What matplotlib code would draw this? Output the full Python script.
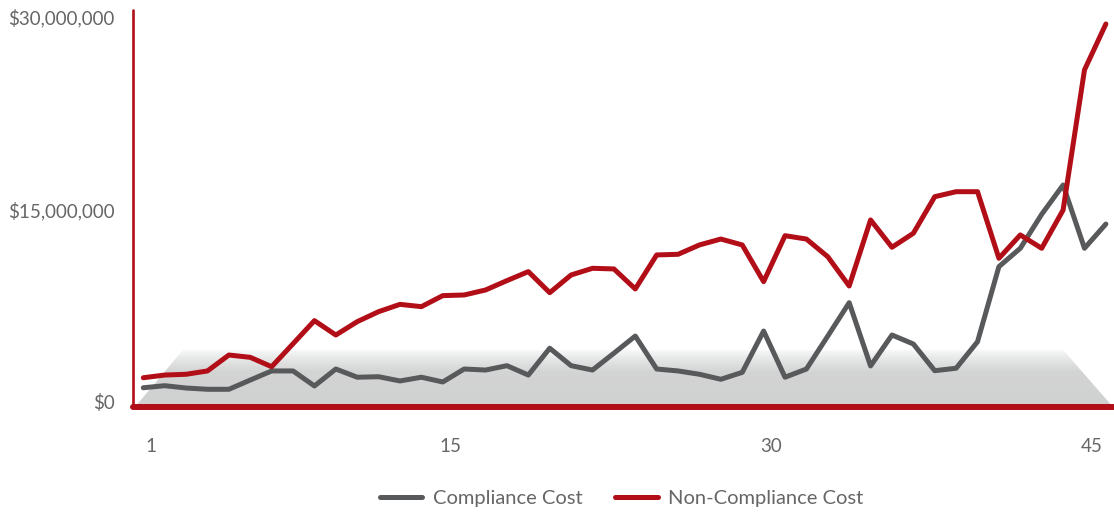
import numpy as np
import matplotlib
matplotlib.use('Agg')
import matplotlib.pyplot as plt
from matplotlib.patches import Polygon

# period number 1..46, values in millions of dollars
periods = np.arange(1, 47)
compliance = [1.11, 1.27, 1.09, 0.99, 0.99, 1.71, 2.42, 2.42, 1.25, 2.57,
              1.93, 1.97, 1.64, 1.93, 1.56, 2.57, 2.49, 2.83, 2.10, 4.19,
              2.83, 2.49, 3.80, 5.14, 2.57, 2.42, 2.16, 1.77, 2.31, 5.53,
              1.93, 2.57, 5.14, 7.74, 2.81, 5.22, 4.52, 2.44, 2.63, 4.70,
              10.55, 11.98, 14.63, 16.91, 11.98, 13.87]
non_compliance = [1.89, 2.10, 2.16, 2.42, 3.66, 3.48, 2.75, 4.54, 6.34, 5.22,
                  6.26, 7.04, 7.61, 7.43, 8.29, 8.34, 8.73, 9.46, 10.16, 8.52,
                  9.90, 10.42, 10.37, 8.81, 11.46, 11.51, 12.24, 12.70, 12.24, 9.38,
                  12.96, 12.70, 11.32, 9.04, 14.19, 12.06, 13.15, 16.00, 16.39, 16.39,
                  11.20, 13.02, 11.98, 14.96, 25.88, 29.46]
xtick_vals = [1, 15, 30, 45]
ytick_vals = [0, 15, 30]
ytick_labels = ['$0', '$15,000,000', '$30,000,000']

RED = '#b20e18'
GRAY = '#58595b'
TXT = '#666666'

plt.rcParams['font.family'] = ['Lato', 'DejaVu Sans']

fig = plt.figure(figsize=(11.14, 5.14), dpi=100)
ax = fig.add_axes([133 / 1114, 107 / 514, 981 / 1114, 397 / 514])

# gradient "floor" under the lines
t = np.linspace(0, 1, 256)[:, None]
shade = 1 - 0.16 * np.clip(t / 0.4, 0, 1) ** 0.7 - 0.02 * t
img = np.dstack([shade * 0.995, shade * 0.997, shade * 1.0, np.ones_like(shade)])
img = np.clip(img, 0, 1)
floor = Polygon([(0.002, 0.0), (0.051, 0.144), (0.948, 0.144), (0.999, 0.0)],
                closed=True, transform=ax.transAxes, facecolor='none', edgecolor='none')
ax.add_patch(floor)
im = ax.imshow(img, extent=[0, 1, 0, 0.144], transform=ax.transAxes,
               aspect='auto', zorder=0, interpolation='bilinear')
im.set_clip_path(floor)

ax.plot(periods, compliance, color=GRAY, lw=3.6, solid_joinstyle='round',
        solid_capstyle='round', label='Compliance Cost', zorder=3)
ax.plot(periods, non_compliance, color=RED, lw=3.6, solid_joinstyle='round',
        solid_capstyle='round', label='Non-Compliance Cost', zorder=3)

ax.set_xlim(0.518, 46.38)
ax.set_ylim(-0.39, 30.55)

ax.set_xticks([v + 0.35 for v in xtick_vals])
ax.set_xticklabels([str(v) for v in xtick_vals])
ax.set_yticks(ytick_vals)
ax.set_yticklabels(ytick_labels)
ax.tick_params(length=0, labelsize=13.5, colors=TXT)
ax.tick_params(axis='y', pad=13)
ax.tick_params(axis='x', pad=22)

for side in ['top', 'right']:
    ax.spines[side].set_visible(False)
ax.spines['left'].set_color(RED)
ax.spines['left'].set_linewidth(1.9)
ax.spines['bottom'].set_color(RED)
ax.spines['bottom'].set_linewidth(4.3)
ax.spines['bottom'].set_capstyle('round')
ax.spines['left'].set_capstyle('round')
ax.spines['left'].set_zorder(4)
ax.spines['bottom'].set_zorder(4)

fig.legend(loc='center', bbox_to_anchor=(0.558, 0.031), ncol=2, frameon=False,
           fontsize=14.5, labelcolor=TXT, handlelength=2.1, handletextpad=0.5,
           columnspacing=1.65)

fig.savefig('out.png', dpi=100)
